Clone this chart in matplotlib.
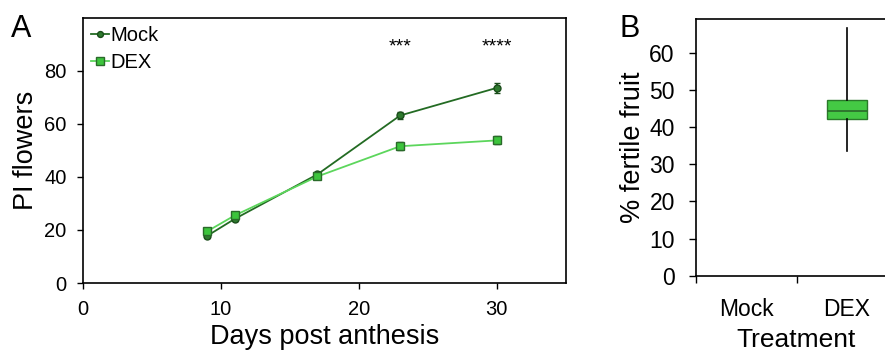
import matplotlib
matplotlib.use("Agg")
from matplotlib import pyplot as plt

plt.rcParams['font.family'] = ['Liberation Sans', 'DejaVu Sans']

# panel A data
days = [9, 11, 17, 23, 30]
mock = [17.8, 24.2, 41.0, 63.2, 73.6]
mock_err = [0.8, 0.9, 1.0, 1.5, 1.8]
dex = [19.5, 25.5, 40.2, 51.6, 53.8]
dex_err = [0.8, 0.9, 1.0, 1.5, 1.5]
stars = ['***', '****']
star_days = [23, 30]

# panel B data (DEX box only)
box_labels = ['Mock', 'DEX']
dex_whislo, dex_q1, dex_med, dex_q3, dex_whishi = 33.5, 42.1, 44.2, 47.3, 66.5

dark = '#236b23'
light = '#5cd65c'
box_fill = '#44c944'

fig = plt.figure(figsize=(8.85, 3.52), dpi=100)

# ---- panel A ----
ax = fig.add_axes([0.094, 0.196, 0.545, 0.753])
ax.errorbar(days, mock, yerr=mock_err, fmt='none', ecolor='#1a4d1a', lw=1.3,
            capsize=2, zorder=2)
ax.errorbar(days, dex, yerr=dex_err, fmt='none', ecolor='#1a4d1a', lw=1.3,
            capsize=2, zorder=2)
ax.plot(days, mock, color=dark, lw=1.3, marker='o', ms=5,
        mfc='#2e7a2e', mec='#1a4d1a', label='Mock', zorder=3)
ax.plot(days, dex, color=light, lw=1.3, marker='s', ms=6,
        mfc='#3cc43c', mec='#2a6a2a', label='DEX', zorder=4)
for d, s in zip(star_days, stars):
    ax.text(d, 89, s, ha='center', va='center', fontsize=14)
ax.set_xlim(0, 35)
ax.set_ylim(0, 100)
ax.set_xticks([0, 10, 20, 30])
ax.set_yticks([0, 20, 40, 60, 80])
ax.tick_params(labelsize=14.5, length=4, width=1, direction='out', pad=8)
ax.set_xlabel('Days post anthesis', fontsize=19.5, labelpad=4)
ax.set_ylabel('PI flowers', fontsize=19.5, labelpad=4)
ax.legend(loc='upper left', frameon=False, fontsize=14.5, handlelength=0.9,
          handletextpad=0.05, borderaxespad=0.2, labelspacing=0.4,
          borderpad=0.2, markerscale=0.85)
for sp in ax.spines.values():
    sp.set_linewidth(1.2)
fig.text(0.012, 0.96, 'A', fontsize=22, va='top')

# ---- panel B ----
bx = fig.add_axes([0.786, 0.216, 0.228, 0.730])
stats = [{'whislo': dex_whislo, 'q1': dex_q1, 'med': dex_med, 'q3': dex_q3,
          'whishi': dex_whishi, 'fliers': [], 'label': box_labels[1]}]
bx.bxp(stats, positions=[1.5], widths=0.4, patch_artist=True, showcaps=False,
       boxprops=dict(facecolor=box_fill, edgecolor='#2a7a2a', lw=1),
       medianprops=dict(color='#2a6a2a', lw=1.2),
       whiskerprops=dict(color='black', lw=1.2))
bx.set_xlim(0, 2)
bx.set_ylim(0, 69)
bx.set_yticks(range(0, 61, 10))
bx.set_xticks([0, 1, 2])
bx.set_xticklabels([])
bx.set_xticks([0.5, 1.5], minor=True)
bx.set_xticklabels(box_labels, minor=True)
bx.tick_params(axis='x', which='minor', length=0, pad=16, labelsize=16.5)
bx.tick_params(axis='both', which='major', labelsize=16.5, length=5, width=1, pad=10)
bx.set_xlabel('Treatment', fontsize=19, labelpad=5)
bx.set_ylabel('% fertile fruit', fontsize=19.5, labelpad=2)
bx.spines['right'].set_visible(False)
for sp in bx.spines.values():
    sp.set_linewidth(1.2)
fig.text(0.7, 0.96, 'B', fontsize=22, va='top')

fig.savefig('out.png', dpi=100)
